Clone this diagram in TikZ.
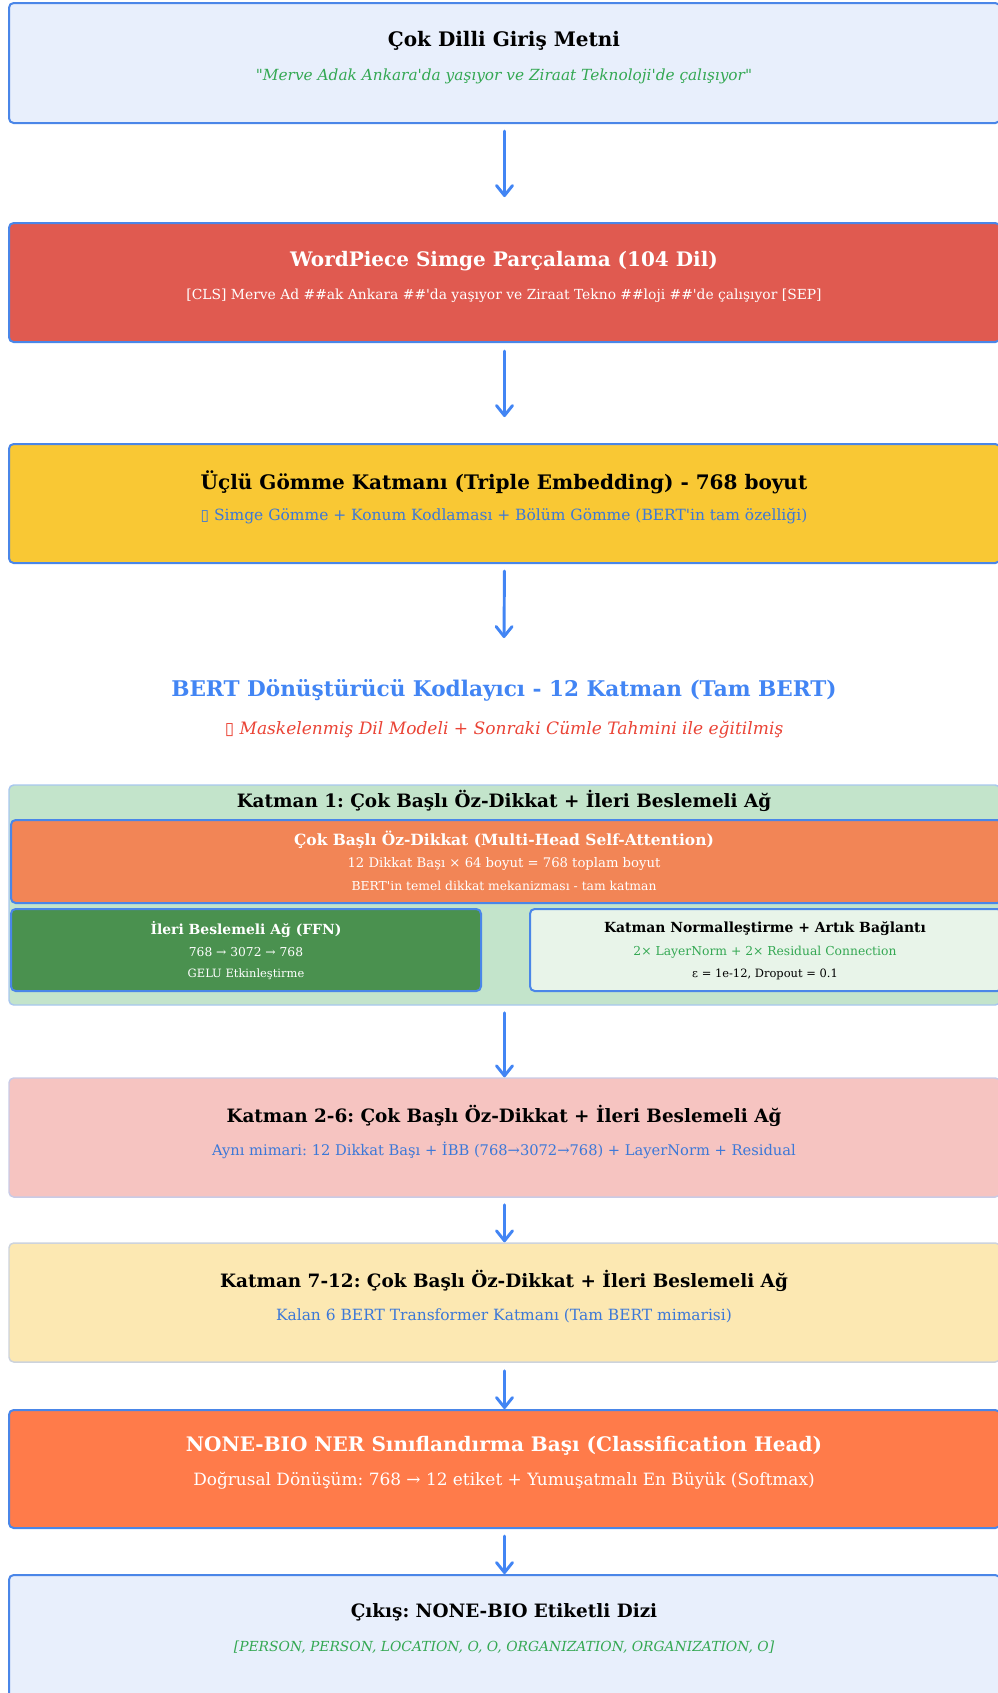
\documentclass[tikz,border=0pt]{standalone}
\usepackage{fontspec}
\setmainfont{DejaVu Serif}[Ligatures=TeXOff]
\newfontfamily\symf{DejaVu Sans}
\usetikzlibrary{arrows.meta,fit}
\frenchspacing
\definecolor{bblue}{HTML}{4A86E8}
\definecolor{lblue}{HTML}{E8EFFC}
\definecolor{wpred}{HTML}{E05A50}
\definecolor{embyel}{HTML}{F9C834}
\definecolor{tblue}{HTML}{4285F4}
\definecolor{sblue}{HTML}{3C78D8}
\definecolor{tred}{HTML}{EA4335}
\definecolor{tgreen}{HTML}{34A853}
\definecolor{contgreen}{HTML}{C3E4CB}
\definecolor{contborder}{HTML}{A8C7EE}
\definecolor{mhsaor}{HTML}{F28556}
\definecolor{ffngreen}{HTML}{4A914F}
\definecolor{lnfill}{HTML}{E8F4E9}
\definecolor{pinkfill}{HTML}{F6C4C1}
\definecolor{pinkborder}{HTML}{C9CBE6}
\definecolor{creamfill}{HTML}{FCE8B2}
\definecolor{creamborder}{HTML}{CDD3DC}
\definecolor{nerfill}{HTML}{FF7B4A}
\tikzset{
  box/.style={rounded corners=3.5pt, line width=1.5pt, inner sep=0pt},
  softbox/.style={rounded corners=3.5pt, line width=1.1pt, inner sep=0pt},
  flow/.style={draw=tblue, line width=2.2pt, line cap=round,
    -{Straight Barb[length=7.5pt,width=12pt,line cap=round,line join=round]}},
  bigttl/.style={font=\fontsize{15}{17}\selectfont\bfseries},
  ttl/.style={font=\fontsize{13.8}{16}\selectfont\bfseries},
}
\begin{document}
\begin{tikzpicture}[x=0.75pt,y=-0.75pt]
\useasboundingbox (0,0) rectangle (998,1693);
\clip (0,0) rectangle (998,1693);
% boxes
\node[box, draw=bblue, fill=lblue, fit={(9,3) (1000,123)}] (b1) {};
\node[box, draw=bblue, fill=wpred, fit={(9,223) (1000,342)}] (b2) {};
\node[box, draw=bblue, fill=embyel, fit={(9,444) (1000,563)}] (b3) {};
\node[softbox, draw=contborder, fill=contgreen, fit={(9,785) (1000,1005)}] (k1) {};
\node[box, draw=bblue, fill=mhsaor, fit={(11,820) (1002,903)}] (mhsa) {};
\node[box, draw=bblue, fill=ffngreen, fit={(11,909) (481,991)}] (ffn) {};
\node[box, draw=bblue, fill=lnfill, fit={(530,909) (1002,991)}] (ln) {};
\node[softbox, draw=pinkborder, fill=pinkfill, fit={(9,1078) (1000,1197)}] (b26) {};
\node[softbox, draw=creamborder, fill=creamfill, fit={(9,1243) (1000,1362)}] (b712) {};
\node[box, draw=bblue, fill=nerfill, fit={(9,1410) (1000,1528)}] (ner) {};
\node[box, draw=bblue, fill=lblue, fit={(9,1575) (1000,1698)}] (out) {};
% texts
\node[bigttl] (t1) at (504,41) {Çok Dilli Giriş Metni};
\node[text=tgreen, font=\fontsize{11.5}{13.5}\selectfont\itshape] (s1) at (504,76) {"Merve Adak Ankara'da yaşıyor ve Ziraat Teknoloji'de çalışıyor"};
\node[bigttl, text=white] (t2) at (504,261) {WordPiece Simge Parçalama (104 Dil)};
\node[text=white, font=\fontsize{10.4}{12.5}\selectfont] (s2) at (504,296) {[CLS] Merve Ad \#\#ak Ankara \#\#'da yaşıyor ve Ziraat Tekno \#\#loji \#\#'de çalışıyor [SEP]};
\node[bigttl] (t3) at (504,482) {Üçlü Gömme Katmanı (Triple Embedding) - 768 boyut};
\node[text=sblue, font=\fontsize{11.6}{13.5}\selectfont] (s3) at (504,516) {{\symf ▯} Simge Gömme + Konum Kodlaması + Bölüm Gömme (BERT'in tam özelliği)};
\node[font=\fontsize{16.2}{19}\selectfont\bfseries, text=tblue] (tb) at (504,690) {BERT Dönüştürücü Kodlayıcı - 12 Katman (Tam BERT)};
\node[font=\fontsize{12.8}{15}\selectfont\itshape, text=tred] (sb) at (504,730) {{\symf\upshape ▯} Maskelenmiş Dil Modeli + Sonraki Cümle Tahmini ile eğitilmiş};
\node[ttl] (tk1) at (504,801) {Katman 1: Çok Başlı Öz-Dikkat + İleri Beslemeli Ağ};
\node[font=\fontsize{11.6}{13.5}\selectfont\bfseries, text=white] (tm1) at (504,840) {Çok Başlı Öz-Dikkat (Multi-Head Self-Attention)};
\node[font=\fontsize{9.9}{11.5}\selectfont, text=white] (tm2) at (504,864) {12 Dikkat Başı × 64 boyut = 768 toplam boyut};
\node[font=\fontsize{9.25}{11}\selectfont, text=white] (tm3) at (504,886) {BERT'in temel dikkat mekanizması - tam katman};
\node[font=\fontsize{10.45}{12.5}\selectfont\bfseries, text=white] (tf1) at (246,929) {İleri Beslemeli Ağ (FFN)};
\node[font=\fontsize{9.2}{11}\selectfont, text=white] (tf2) at (246,952) {768 → 3072 → 768};
\node[font=\fontsize{8.6}{10}\selectfont, text=white] (tf3) at (246,974) {GELU Etkinleştirme};
\node[font=\fontsize{10.45}{12.5}\selectfont\bfseries] (tl1) at (765,929) {Katman Normalleştirme + Artık Bağlantı};
\node[font=\fontsize{9.25}{11}\selectfont, text=tgreen] (tl2) at (765,952) {2× LayerNorm + 2× Residual Connection};
\node[font=\fontsize{8.6}{10}\selectfont] (tl3) at (765,974) {ε = 1e-12, Dropout = 0.1};
\node[ttl] (t26) at (504,1116) {Katman 2-6: Çok Başlı Öz-Dikkat + İleri Beslemeli Ağ};
\node[text=sblue, font=\fontsize{11}{13}\selectfont] (s26) at (504,1150) {Aynı mimari: 12 Dikkat Başı + İBB (768→3072→768) + LayerNorm + Residual};
\node[ttl] (t712) at (504,1281) {Katman 7-12: Çok Başlı Öz-Dikkat + İleri Beslemeli Ağ};
\node[text=sblue, font=\fontsize{11.6}{13.5}\selectfont] (s712) at (504,1316) {Kalan 6 BERT Transformer Katmanı (Tam BERT mimarisi)};
\node[bigttl, text=white] (tn) at (504,1446) {NONE-BIO NER Sınıflandırma Başı (Classification Head)};
\node[text=white, font=\fontsize{12.7}{15}\selectfont] (sn) at (504,1481) {Doğrusal Dönüşüm: 768 → 12 etiket + Yumuşatmalı En Büyük (Softmax)};
\node[ttl] (to) at (504,1612) {Çıkış: NONE-BIO Etiketli Dizi};
\node[text=tgreen, font=\fontsize{10.4}{12.5}\selectfont\itshape] (so) at (504,1647) {[PERSON, PERSON, LOCATION, O, O, ORGANIZATION, ORGANIZATION, O]};
% arrows
\coordinate (a3end) at (504,638);
\draw[flow, shorten <=5.25pt, shorten >=18.75pt] (b1.south) -- (b2.north);
\draw[flow, shorten <=6pt, shorten >=19.5pt] (b2.south) -- (b3.north);
\draw[flow, shorten <=5.25pt] (b3.south) -- (a3end);
\draw[flow, shorten <=5.25pt] (k1.south) -- (b26.north);
\draw[flow, shorten <=5.25pt] (b26.south) -- (b712.north);
\draw[flow, shorten <=6pt] (b712.south) -- (ner.north);
\draw[flow, shorten <=5.25pt] (ner.south) -- (out.north);
\end{tikzpicture}
\end{document}
